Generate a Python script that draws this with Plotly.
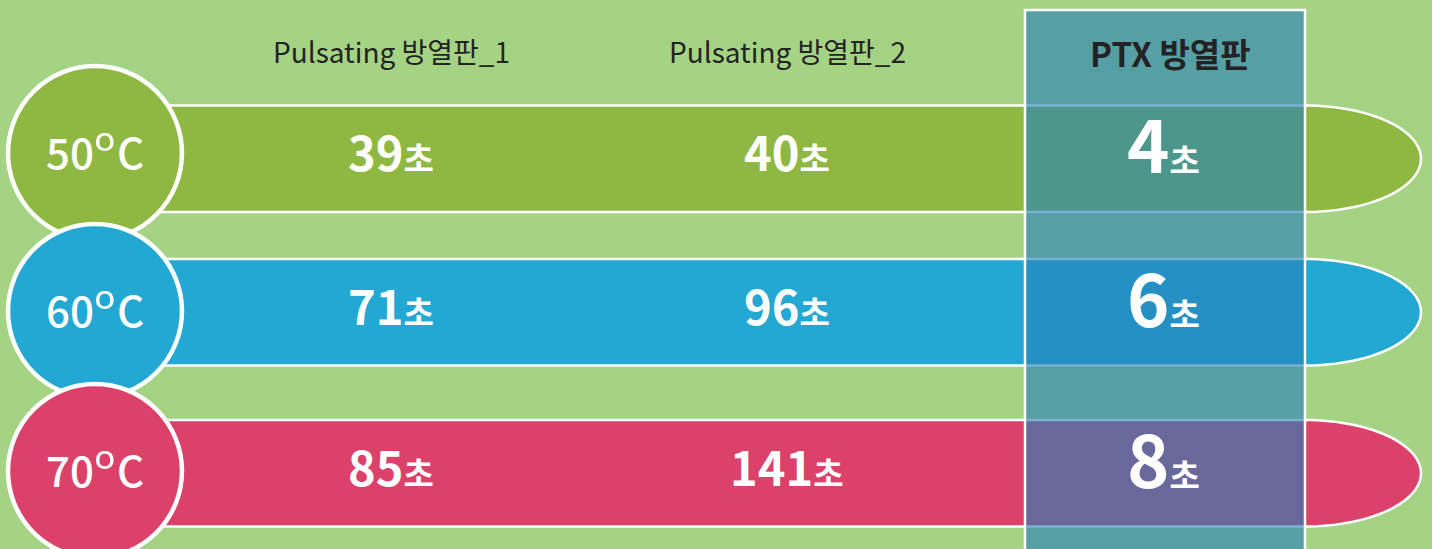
import numpy as np
import plotly.graph_objects as go

# ---- data ----
temps = ["50", "60", "70"]
deg = "ᵒ"
pulsating_1 = [39, 71, 85]
pulsating_2 = [40, 96, 141]
ptx = [4, 6, 8]
headers = ["Pulsating 방열판_1", "Pulsating 방열판_2", "PTX 방열판"]
unit = "초"
row_colors = ["#8FB843", "#23A8D4", "#DB4169"]

# ---- layout constants ----
W, H = 1432, 549
BG = "#A5D384"
FONT = "Noto Sans CJK KR"
row_tops = [105.5, 259, 420]
row_h = 106.5
bar_x0, bar_x1, cap_rx = 150, 1305, 116
circle_cx, circle_r = 95, 87
circle_cy = [153, 311, 471]
col_x = [391, 787, 1163]
col_box = (1025, 1305, 10, 560)

fig = go.Figure()
shapes = []
annotations = []

# bars with elliptical right cap
for i, c in enumerate(row_colors):
    top = row_tops[i]
    bot = top + row_h
    cy = (top + bot) / 2
    t = np.linspace(-np.pi / 2, np.pi / 2, 60)
    ex = bar_x1 + cap_rx * np.cos(t)
    ey = cy + (row_h / 2) * np.sin(t)
    path = f"M {bar_x0},{top} L {bar_x1},{top} "
    path += " ".join(f"L {x:.2f},{y:.2f}" for x, y in zip(ex, ey))
    path += f" L {bar_x0},{bot} Z"
    shapes.append(dict(type="path", path=path, xref="x", yref="y",
                       fillcolor=c, line=dict(color="white", width=2.5), layer="above"))

# PTX column overlay
x0, x1, y0, y1 = col_box
shapes.append(dict(type="rect", xref="x", yref="y", x0=x0, x1=x1, y0=y0, y1=y1,
                   fillcolor="rgba(37,129,186,0.62)", line=dict(color="white", width=2.5),
                   layer="above"))

# circles
for i, c in enumerate(row_colors):
    cy = circle_cy[i]
    shapes.append(dict(type="circle", xref="x", yref="y",
                       x0=circle_cx - circle_r, x1=circle_cx + circle_r,
                       y0=cy - circle_r, y1=cy + circle_r,
                       fillcolor=c, line=dict(color="white", width=4.5), layer="above"))
    label = f"{temps[i]}<span style='font-size:56px'>{deg}</span>C"
    annotations.append(dict(x=circle_cx, y=cy - 9, xref="x", yref="y",
                            text=label, showarrow=False,
                            font=dict(family=FONT + ", DejaVu Sans", size=42,
                                      color="white", weight=500)))

# headers
for j, h in enumerate(headers):
    if j < 2:
        annotations.append(dict(x=col_x[j], y=51, xref="x", yref="y", text=h,
                                showarrow=False,
                                font=dict(family=FONT, size=28, color="#232323")))
    else:
        annotations.append(dict(x=1170, y=53, xref="x", yref="y", text=f"<b>{h}</b>",
                                showarrow=False,
                                font=dict(family=FONT, size=33, color="#232323")))

# values
for i in range(3):
    cy = row_tops[i] + row_h / 2
    vals = [pulsating_1[i], pulsating_2[i], ptx[i]]
    for j, v in enumerate(vals):
        nsize = 47 if j < 2 else 72
        dy = -8 if j < 2 else -17
        txt = f"<b>{v}<span style='font-size:33px'>{unit}</span></b>"
        annotations.append(dict(x=col_x[j], y=cy + dy, xref="x", yref="y", text=txt,
                                showarrow=False,
                                font=dict(family=FONT, size=nsize, color="white")))

fig.update_layout(
    width=W, height=H,
    margin=dict(l=0, r=0, t=0, b=0),
    paper_bgcolor=BG, plot_bgcolor=BG,
    xaxis=dict(range=[0, W], visible=False, fixedrange=True),
    yaxis=dict(range=[H, 0], visible=False, fixedrange=True),
    shapes=shapes, annotations=annotations,
    showlegend=False,
)
fig.write_html("out.html", config={"displayModeBar": False},
               post_script="document.body.style.margin='0';document.body.style.background='" + BG + "';")
